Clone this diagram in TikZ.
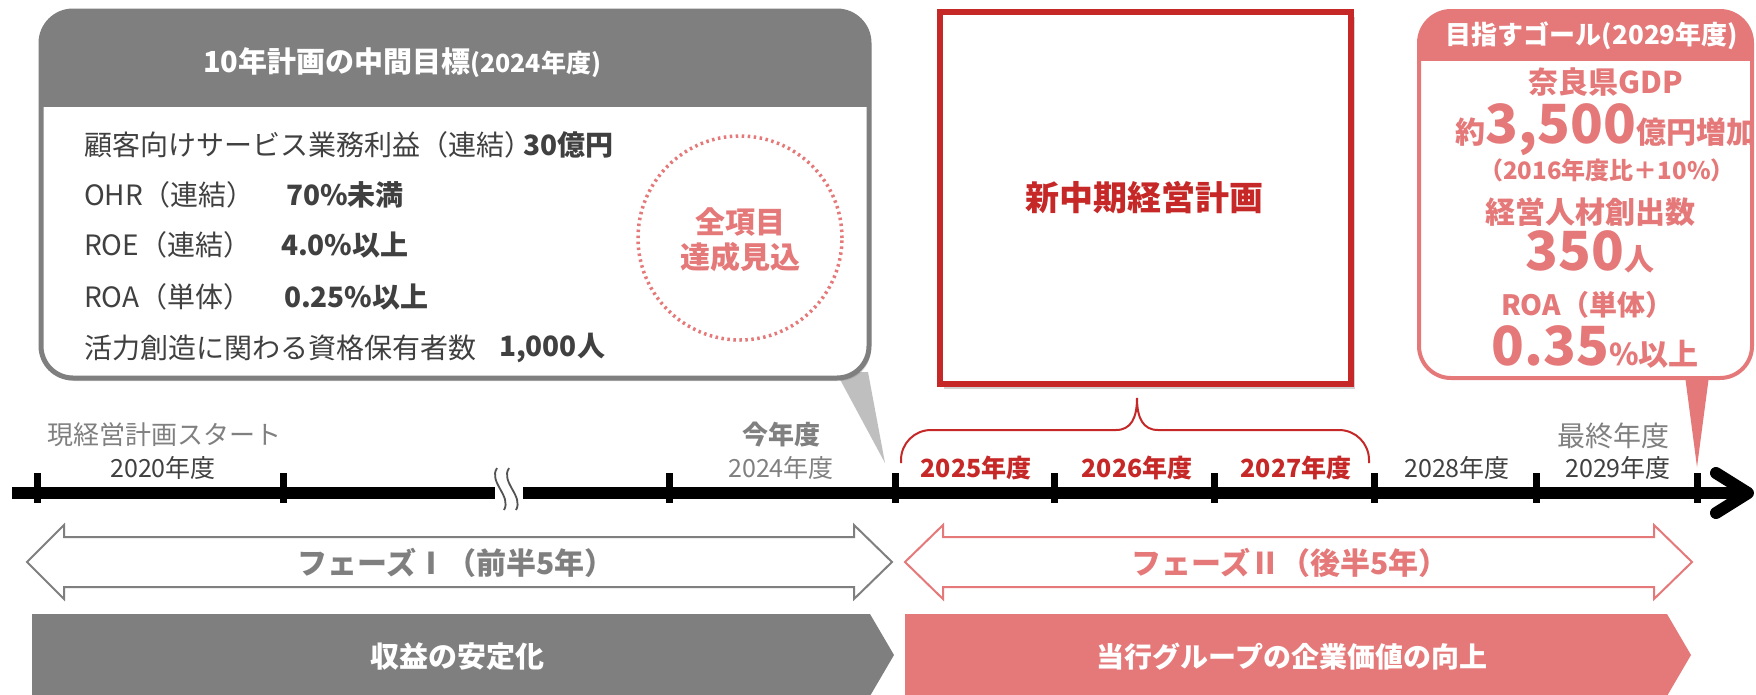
\documentclass[tikz,border=0pt]{standalone}
\usepackage{fontspec}
\setmainfont{Noto Sans CJK JP}
\usetikzlibrary{shadows}
\definecolor{gr}{HTML}{7F7F7F}
\definecolor{lgr}{HTML}{BFBFBF}
\definecolor{dk}{HTML}{404040}
\definecolor{txg}{HTML}{808080}
\definecolor{rd}{HTML}{C62828}
\definecolor{pk}{HTML}{E57878}
\newcommand\myfs[1]{\fontsize{#1}{#1}\selectfont}
\begin{document}
\begin{tikzpicture}[x=1pt,y=-1pt,
  every node/.style={inner sep=0pt, outer sep=0pt},
  lbl/.style={anchor=west, text=dk, font=\myfs{28}},
  lblb/.style={anchor=west, text=dk, font=\myfs{28}\bfseries},
  yr/.style={text=dk, font=\myfs{25}},
  yrr/.style={text=rd, font=\myfs{25}\bfseries},
  tickmark/.style={line width=7pt, black},
  axisline/.style={line width=12pt, black},
  phasearrow/.style={line width=2pt, fill=white, line join=miter},
  wave/.style={line width=1.8pt, draw=dk!90},
  pinkt/.style={text=pk, font=\bfseries}
]
\useasboundingbox[fill=white] (0,0) rectangle (1756,694);

% ---------- left callout ----------
\coordinate (lp1) at (836,372);
\coordinate (lp2) at (868,372);
\coordinate (lptip) at (885,463);
\fill[lgr] (lp1) -- (lp2) -- (lptip) -- cycle;
\path[fill=white, rounded corners=32pt,
  drop shadow={shadow xshift=2pt, shadow yshift=-3pt, opacity=0.3}]
  (41,11) rectangle (869,378);
\begin{scope}
  \clip (0,0) rectangle (1756,106);
  \fill[gr, rounded corners=32pt] (41,11) rectangle (869,378);
\end{scope}
\draw[gr, line width=5pt, rounded corners=32pt] (41,11) rectangle (869,378);
\node[anchor=west, text=white, font=\myfs{29}\bfseries] (ltitle) at (203,63)
  {10年計画の中間目標{\myfs{25}(2024年度)}};

\node[lbl] (l1a) at (84,145) {顧客向けサービス業務利益（連結）};
\node[lblb] (l1b) at (523,145) {30億円};
\node[lbl] (l2a) at (84,195) {OHR（連結）};
\node[lblb] (l2b) at (286,195) {70\%未満};
\node[lbl] (l3a) at (84,245) {ROE（連結）};
\node[lblb] (l3b) at (281,245) {4.0\%以上};
\node[lbl] (l4a) at (84,297) {ROA（単体）};
\node[lblb] (l4b) at (284,297) {0.25\%以上};
\node[lbl] (l5a) at (84,348) {活力創造に関わる資格保有者数};
\node[lblb] (l5b) at (499,348) {1,000人};

\draw[pk, line width=3.5pt, dash pattern=on 2.5pt off 3.5pt] (740,238) circle[radius=102pt];
\node[pinkt, font=\myfs{30}\bfseries] (c1) at (740,222) {全項目};
\node[pinkt, font=\myfs{30}\bfseries] (c2) at (740,257) {達成見込};

% ---------- red box ----------
\path[draw=rd, line width=6pt, fill=white,
  drop shadow={shadow xshift=4pt, shadow yshift=-5pt, opacity=0.35}]
  (940,12) rectangle (1351,384);
\node[text=rd, font=\myfs{34}\bfseries] (newplan) at (1144,198) {新中期経営計画};

% brace
\draw[rd, line width=2pt, rounded corners=30pt] (901,463) |- (1116,430);
\draw[rd, line width=2pt] (1116,430) .. controls (1131,430) and (1137,418) .. (1137,398)
  .. controls (1137,418) and (1143,430) .. (1158,430);
\draw[rd, line width=2pt, rounded corners=30pt] (1158,430) -| (1369,463);

% ---------- right callout ----------
\coordinate (rp1) at (1685,376);
\coordinate (rp2) at (1709,376);
\coordinate (rptip) at (1697,467);
\fill[pk] (rp1) -- (rp2) -- (rptip) -- cycle;
\path[fill=white, rounded corners=32pt] (1419,11) rectangle (1752,378);
\begin{scope}
  \clip (0,0) rectangle (1756,60);
  \fill[pk, rounded corners=32pt] (1419,11) rectangle (1752,378);
\end{scope}
\draw[pk, line width=4pt, rounded corners=32pt] (1419,11) rectangle (1752,378);
\node[text=white, font=\myfs{26}\bfseries] (rtitle) at (1592,36) {目指すゴール(2029年度)};
\node[pinkt, font=\myfs{30}\bfseries] (r1) at (1606,82) {奈良県GDP};
\node[pinkt, font=\myfs{30}\bfseries] (r2) at (1606,130) {約{\myfs{54}3,500}億円増加};
\node[pinkt, font=\myfs{24}\bfseries] (r3) at (1607,170) {（2016年度比＋10\%）};
\node[pinkt, font=\myfs{30}\bfseries] (r4) at (1590,212) {経営人材創出数};
\node[pinkt, font=\myfs{30}\bfseries] (r5) at (1590,252) {{\myfs{54}350}人};
\node[pinkt, font=\myfs{28}\bfseries] (r6) at (1587,305) {ROA（単体）};
\node[pinkt, font=\myfs{30}\bfseries] (r7) at (1595,347) {{\myfs{54}0.35}\%以上};

% ---------- timeline ----------
\coordinate (ax0) at (12,493);
\coordinate (axb1) at (495,493);
\coordinate (axb2) at (523,493);
\coordinate (ax1) at (1745,493);
\draw[axisline] (ax0) -- (axb1);
\draw[axisline] (axb2) -- (ax1);
\draw[axisline, line cap=round, line join=round] (1716,473) -- (1748,493) -- (1716,513);
\draw[wave] (497,468) .. controls (488,482) and (512,496) .. (504,510);
\draw[wave] (509,468) .. controls (500,482) and (524,496) .. (516,510);
\foreach \x in {37,283,669,895,1054,1214,1374,1536,1697}
  \draw[tickmark] (\x,473) -- (\x,503);

\node[text=txg, font=\myfs{26}] (start) at (164,435) {現経営計画スタート};
\node[yr] (y20) at (163,468) {2020年度};
\node[text=txg, font=\myfs{26}\bfseries] (now) at (781,435) {今年度};
\node[text=txg, font=\myfs{25}] (y24) at (781,468) {2024年度};
\node[yrr] (y25) at (976,468) {2025年度};
\node[yrr] (y26) at (1137,468) {2026年度};
\node[yrr] (y27) at (1296,468) {2027年度};
\node[yr] (y28) at (1457,468) {2028年度};
\node[text=txg, font=\myfs{28}] (final) at (1613,436) {最終年度};
\node[yr] (y29) at (1618,468) {2029年度};

% ---------- phase arrows ----------
\draw[phasearrow, draw=gr] (27,562) -- (64,525) -- (64,537) -- (854,537) -- (854,525)
  -- (892,562) -- (854,599) -- (854,587) -- (64,587) -- (64,599) -- cycle;
\node[text=gr, font=\myfs{30}\bfseries] (ph1) at (456,563) {フェーズⅠ（前半5年）};
\draw[phasearrow, draw=pk] (905,562) -- (943,525) -- (943,537) -- (1654,537) -- (1654,525)
  -- (1692,562) -- (1654,599) -- (1654,587) -- (943,587) -- (943,599) -- cycle;
\node[text=pk, font=\myfs{30}\bfseries] (ph2) at (1290,563) {フェーズⅡ（後半5年）};

% ---------- bottom bars ----------
\fill[gr] (32,614) -- (870,614) -- (894,655) -- (870,696) -- (32,696) -- cycle;
\node[text=white, font=\myfs{29}\bfseries] (bar1) at (457,657) {収益の安定化};
\fill[pk] (905,614) -- (1667,614) -- (1691,655) -- (1667,696) -- (905,696) -- cycle;
\node[text=white, font=\myfs{28}\bfseries] (bar2) at (1292,657) {当行グループの企業価値の向上};
\end{tikzpicture}
\end{document}
